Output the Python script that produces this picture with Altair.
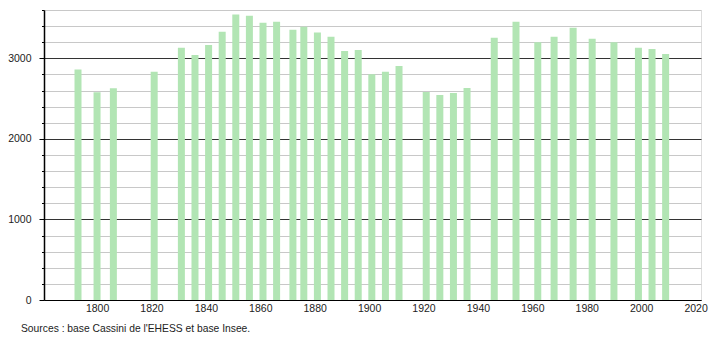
import altair as alt
import pandas as pd

years = [1793, 1800, 1806, 1821, 1831, 1836, 1841, 1846, 1851, 1856, 1861, 1866,
         1872, 1876, 1881, 1886, 1891, 1896, 1901, 1906, 1911, 1921, 1926, 1931,
         1936, 1946, 1954, 1962, 1968, 1975, 1982, 1990, 1999, 2004, 2009]
population = [2860, 2580, 2630, 2835, 3130, 3042, 3167, 3329, 3545, 3529, 3441, 3454,
              3354, 3392, 3321, 3267, 3092, 3105, 2801, 2834, 2905, 2581, 2544, 2569,
              2631, 3254, 3454, 3200, 3267, 3379, 3242, 3200, 3130, 3117, 3055]
x_ticks = list(range(1800, 2021, 20))
y_ticks = list(range(0, 3601, 200))
source_text = "Sources : base Cassini de l'EHESS et base Insee."

df = pd.DataFrame({"year": years, "pop": population})

FONT = "Liberation Sans"

bars = alt.Chart(df).mark_bar(color="#b2e5b4", width=7, opacity=1).encode(
    x=alt.X("year:Q",
            scale=alt.Scale(domain=[1780.5, 2022], nice=False, zero=False, padding=0),
            axis=alt.Axis(values=x_ticks, format="d", ticks=False, grid=False,
                          labelPadding=3, domainColor="#000", domainWidth=1.2,
                          labelFont=FONT, labelFontSize=10.5, labelColor="#222",
                          title=None, labelFlush=False)),
    y=alt.Y("pop:Q",
            scale=alt.Scale(domain=[0, 3600], nice=False, padding=0),
            axis=alt.Axis(values=y_ticks, title=None, grid=True,
                          gridColor={"condition": {"test": "datum.value % 1000 === 0", "value": "#333333"}, "value": "#c8c8c8"},
                          gridWidth=1,
                          tickColor="#000",
                          tickSize={"condition": {"test": "datum.value % 1000 === 0", "value": 5}, "value": 2.5},
                          labelExpr="datum.value % 1000 === 0 ? datum.label : ''",
                          labelPadding=8, format="d",
                          domainColor="#000", domainWidth=1.5,
                          labelFont=FONT, labelFontSize=10.5, labelColor="#222")),
)

note = alt.Chart(pd.DataFrame({"t": [source_text]})).mark_text(
    align="left", baseline="alphabetic", font=FONT, fontSize=10.3, color="#222"
).encode(x=alt.value(-23), y=alt.value(322), text="t:N")

chart = alt.layer(bars, note).properties(
    width=657, height=290,
    autosize=alt.AutoSizeParams(type="none"),
    padding={"left": 44, "top": 10, "right": 9, "bottom": 40},
).configure_view(stroke=None).configure(background="white")

chart.save("out.html", embed_options={"renderer": "svg", "actions": False})
